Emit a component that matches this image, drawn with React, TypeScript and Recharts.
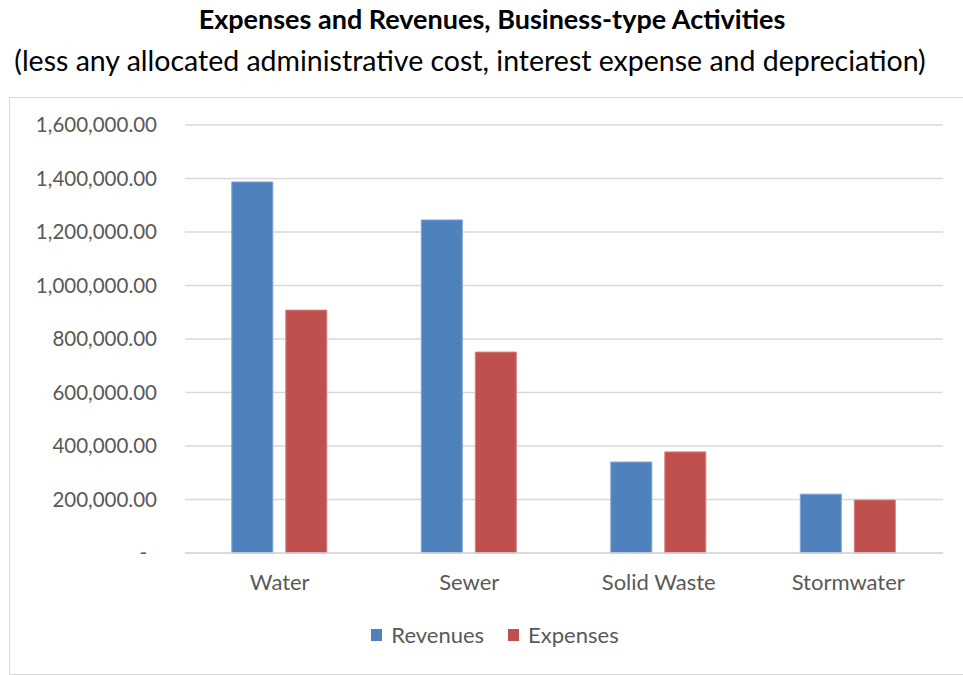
import React from "react"
import { BarChart, Bar, XAxis, YAxis, CartesianGrid } from "recharts"

const categories = ["Water", "Sewer", "Solid Waste", "Stormwater"]
const revenues = [1387000, 1245000, 340000, 220000]
const expenses = [908000, 751000, 378000, 198000]
const yTicks = [0, 200000, 400000, 600000, 800000, 1000000, 1200000, 1400000, 1600000]

const data = categories.map((name, i) => ({ name, Revenues: revenues[i], Expenses: expenses[i] }))

const FONT = "Lato, 'Open Sans', sans-serif"
const TEXT = "#595959"
const BLUE = "#4f81bd"
const RED = "#c0504d"

const fmt = (v: number) =>
  v === 0 ? "-" : v.toLocaleString("en-US", { minimumFractionDigits: 2, maximumFractionDigits: 2 })

const YTick = (props: any) => {
  const { x, y, payload } = props
  const zero = payload.value === 0
  return (
    <text x={zero ? x - 10 : x} y={y} dy="0.35em" textAnchor="end" fill={TEXT} fontSize={20.5} fontFamily={FONT}>
      {fmt(payload.value)}
    </text>
  )
}

export default function App() {
  return (
    <div style={{ position: "absolute", left: 0, top: 0, width: 963, height: 675, background: "#fff", overflow: "hidden" }}>
      <div style={{ position: "absolute", left: 0, top: 2, width: 984, textAlign: "center", fontFamily: FONT, fontWeight: 700, fontSize: 27, color: "#000", whiteSpace: "nowrap" }}>
        Expenses and Revenues, Business-type Activities
      </div>
      <div style={{ position: "absolute", left: 0, top: 43, width: 940, textAlign: "center", fontFamily: FONT, fontSize: 28.5, color: "#000", whiteSpace: "nowrap" }}>
        (less any allocated administrative cost, interest expense and depreciation)
      </div>
      <div style={{ position: "absolute", left: 9, top: 97, width: 970, height: 576, border: "1px solid #d9d9d9" }} />
      <div style={{ position: "absolute", left: 0, top: 0 }}>
        <BarChart width={963} height={675} data={data} margin={{ top: 125, right: 20, bottom: 92, left: 0 }} barGap={13} barCategoryGap="24.7%">
          <CartesianGrid vertical={false} stroke="#d9d9d9" strokeWidth={1.3} />
          <XAxis
            dataKey="name"
            height={30}
            axisLine={{ stroke: "#d9d9d9", strokeWidth: 1.3 }}
            tickLine={false}
            tickSize={0}
            tickMargin={21}
            tick={{ fill: TEXT, fontSize: 22, fontFamily: FONT }}
          />
          <YAxis
            width={185}
            domain={[0, 1600000]}
            ticks={yTicks}
            axisLine={false}
            tickLine={false}
            tickSize={0}
            tickMargin={28}
            tick={<YTick />}
          />
          <Bar dataKey="Revenues" fill={BLUE} stroke="#7fa3d3" strokeWidth={1} isAnimationActive={false} />
          <Bar dataKey="Expenses" fill={RED} stroke="#d47f7d" strokeWidth={1} isAnimationActive={false} />
        </BarChart>
      </div>
      <div style={{ position: "absolute", left: 0, top: 621, width: 990, display: "flex", justifyContent: "center", gap: 24, fontFamily: FONT, fontSize: 22, color: TEXT }}>
        {[
          { label: "Revenues", color: BLUE },
          { label: "Expenses", color: RED },
        ].map((it) => (
          <span key={it.label} style={{ display: "flex", alignItems: "center" }}>
            <span style={{ width: 11, height: 12, background: it.color, marginRight: 9, display: "inline-block" }} />
            {it.label}
          </span>
        ))}
      </div>
    </div>
  )
}
